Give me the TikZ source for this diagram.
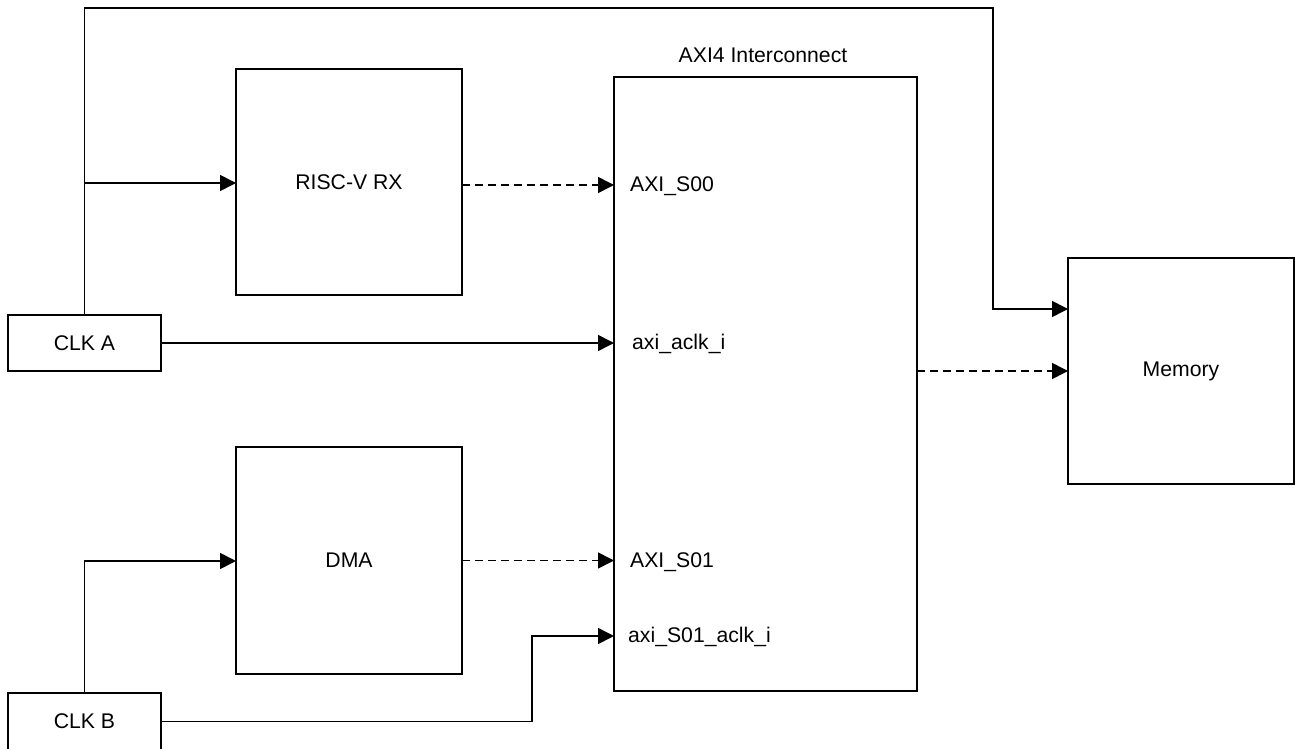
\documentclass[tikz,border=0pt]{standalone}
\usepackage{fontspec}
\setmainfont{Liberation Sans}
\usetikzlibrary{arrows.meta}
\begin{document}
\begin{tikzpicture}[x=1pt,y=-1pt,
  every node/.style={font=\fontsize{21.2}{25}\selectfont},
  box/.style={draw,line width=1.6pt,inner sep=0pt,outer sep=0pt,anchor=north west},
  lbl/.style={anchor=west,inner sep=0pt},
  arr/.style={line width=1.6pt,-{Triangle[length=16pt,width=16pt]}},
  darr/.style={arr,dash pattern=on 8pt off 5pt}]
\useasboundingbox (0,0) rectangle (1295,749);
\node[box,minimum width=153pt,minimum height=56pt] (clka) at (8,315) {CLK A};
\node[box,minimum width=153pt,minimum height=57pt] (clkb) at (8,693) {CLK B};
\node[box,minimum width=226pt,minimum height=226pt] (risc) at (236,69) {RISC-V RX};
\node[box,minimum width=226pt,minimum height=227pt] (dma) at (236,447) {DMA};
\node[box,minimum width=303pt,minimum height=614pt] (axi) at (614,77) {};
\node[box,minimum width=226pt,minimum height=226pt] (mem) at (1068,258) {Memory};
\node (axititle) at (763,55) {AXI4 Interconnect};
\node[lbl] (s00) at (630,186) {AXI\_S00};
\node[lbl] (aclk) at (632,344) {axi\_aclk\_i};
\node[lbl] (s01) at (630,562) {AXI\_S01};
\node[lbl] (s01clk) at (628,637) {axi\_S01\_aclk\_i};
\coordinate (tl) at (84.5,8);
\coordinate (tr) at (993,8);
\coordinate (mr) at (993,309);
\coordinate (br) at (84.5,183);
\coordinate (rd) at (462,185);
\coordinate (bb) at (84.5,561);
\coordinate (kb) at (532,721.5);
\coordinate (kt) at (532,636);
\draw[arr] (clka.north) -- (tl) -- (tr) -- (mr) -- (mr -| mem.west);
\draw[arr] (br) -- (br -| risc.west);
\draw[arr] (clka.east) -- (clka.east -| axi.west);
\draw[darr] (rd) -- (rd -| axi.west);
\draw[darr] (axi.east |- mem.west) -- (mem.west);
\draw[darr] (dma.east) -- (dma.east -| axi.west);
\draw[arr] (clkb.north) -- (bb) -- (bb -| dma.west);
\draw[arr] (clkb.east |- kb) -- (kb) -- (kt) -- (kt -| axi.west);
\end{tikzpicture}
\end{document}
